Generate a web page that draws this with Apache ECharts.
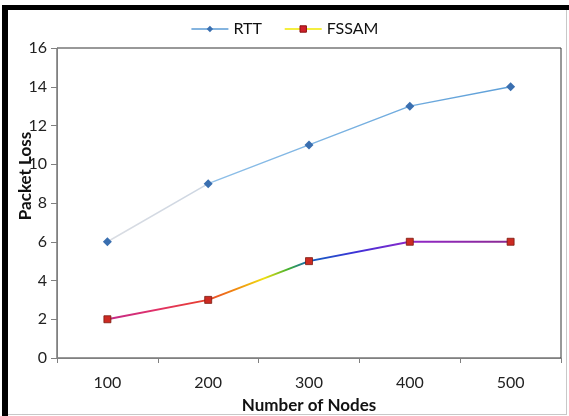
<!DOCTYPE html>
<html><head><meta charset="utf-8">
<script src="https://cdn.jsdelivr.net/npm/echarts@6/dist/echarts.min.js"></script>
<style>html,body{margin:0;padding:0;background:#fff}#c{width:569px;height:416px}</style>
</head><body><div id="c"></div>
<script>
const categories = ['100', '200', '300', '400', '500'];
const rttValues = [6, 9, 11, 13, 14];
const fssamValues = [2, 3, 5, 6, 6];
const yTicks = { min: 0, max: 16, interval: 2 };
const xAxisTitle = 'Number of Nodes';
const yAxisTitle = 'Packet Loss';

const font = 'Lato, "Open Sans", sans-serif';
const chart = echarts.init(document.getElementById('c'));
chart.setOption({
  animation: false,
  backgroundColor: '#fff',
  grid: { left: 57, right: 8, top: 48, bottom: 58, outerBoundsMode: 'none', containLabel: false, show: true, borderColor: '#333', borderWidth: 1, backgroundColor: 'transparent' },
  legend: {
    top: 16, left: 'center',
    itemWidth: 37, itemHeight: 8, itemGap: 22,
    textStyle: { fontFamily: font, fontSize: 16, color: '#111' },
    data: [
      { name: 'RTT', itemStyle: { color: '#3a6fb0' }, lineStyle: { color: '#5b9bd5', width: 1.5 } },
      { name: 'FSSAM', itemStyle: { color: '#d0202a', borderColor: '#8a1010', borderWidth: 1 }, lineStyle: { color: '#f0e800', width: 1.5 } }
    ]
  },
  xAxis: {
    type: 'category', data: categories, boundaryGap: true,
    name: xAxisTitle, nameLocation: 'middle', nameGap: 39, nameMoveOverlap: false,
    nameTextStyle: { fontFamily: font, fontSize: 17, fontWeight: 'bold', color: '#111' },
    axisLine: { lineStyle: { color: '#808080' } },
    axisTick: { show: true, length: 5, lineStyle: { color: '#808080' }, alignWithLabel: false },
    axisLabel: { fontFamily: font, fontSize: 16, color: '#222', margin: 17 },
    splitLine: { show: false }
  },
  yAxis: {
    type: 'value', min: yTicks.min, max: yTicks.max, interval: yTicks.interval,
    name: yAxisTitle, nameLocation: 'middle', nameGap: 23, nameRotate: 90, nameMoveOverlap: false,
    nameTextStyle: { fontFamily: font, fontSize: 17, fontWeight: 'bold', color: '#111', padding: [0, 0, 0, 54] },
    axisLine: { show: true, lineStyle: { color: '#808080' } },
    axisTick: { show: true, length: 6, lineStyle: { color: '#808080' } },
    axisLabel: { fontFamily: font, fontSize: 16, color: '#222', margin: 10 },
    splitLine: { show: false }
  },
  series: [
    {
      name: 'RTT', type: 'line', data: rttValues,
      symbol: 'diamond', symbolSize: 9,
      itemStyle: { color: '#3a6fb0' },
      lineStyle: { width: 1.5, color: new echarts.graphic.LinearGradient(0, 0, 1, 0, [
        { offset: 0, color: '#dadde3' }, { offset: 0.24, color: '#cdd6e2' },
        { offset: 0.27, color: '#8ebfe8' }, { offset: 1, color: '#5d9fd8' }
      ]) }
    },
    {
      name: 'FSSAM', type: 'line', data: fssamValues,
      symbol: 'rect', symbolSize: 7,
      itemStyle: { color: '#cc2a22', borderColor: '#7a1a10', borderWidth: 0.8 },
      lineStyle: { width: 2, color: new echarts.graphic.LinearGradient(0, 0, 1, 0, [
        { offset: 0, color: '#c02a8a' }, { offset: 0.12, color: '#e0306a' },
        { offset: 0.25, color: '#e8402a' }, { offset: 0.32, color: '#f08a10' },
        { offset: 0.39, color: '#f0e010' }, { offset: 0.45, color: '#40b030' },
        { offset: 0.5, color: '#1060c0' }, { offset: 0.62, color: '#4030d8' },
        { offset: 0.75, color: '#9028c8' }, { offset: 1, color: '#8a2a90' }
      ]) }
    }
  ],
  graphic: [
    { type: 'rect', shape: { x: 2, y: 5, width: 567, height: 5 }, style: { fill: '#000' } },
    { type: 'rect', shape: { x: 2, y: 5, width: 6, height: 411 }, style: { fill: '#000' } },
    { type: 'rect', shape: { x: 566, y: 10, width: 1, height: 405 }, style: { fill: '#c8c8c8' } },
    { type: 'rect', shape: { x: 8, y: 414, width: 559, height: 1 }, style: { fill: '#c8c8c8' } }
  ]
});
</script></body></html>
